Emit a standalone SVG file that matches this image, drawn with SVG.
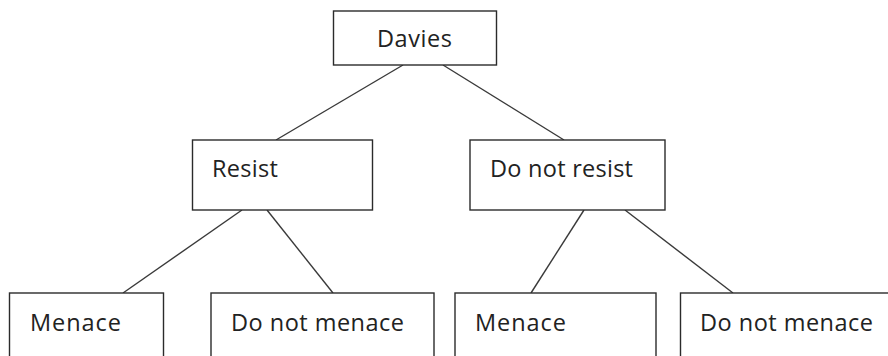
<svg xmlns="http://www.w3.org/2000/svg" width="888" height="356" viewBox="0 0 888 356">
<style>
.box{fill:#fff;stroke:#2b2b2b;stroke-width:1.4}
.lbl{font-family:"Open Sans","Noto Sans",sans-serif;font-size:23.5px;fill:#222}
.edge{stroke:#3a3a3a;stroke-width:1.4;fill:none}
</style>
<rect width="888" height="356" fill="#fff"/>
<g id="connectors">
<line class="edge" x1="403" y1="65" x2="276" y2="140"/>
<line class="edge" x1="443" y1="65" x2="564" y2="140"/>
<line class="edge" x1="242" y1="210" x2="123" y2="293"/>
<line class="edge" x1="267" y1="210" x2="333" y2="293"/>
<line class="edge" x1="584" y1="210" x2="531" y2="293"/>
<line class="edge" x1="625" y1="210" x2="733" y2="293"/>
</g>
<g id="davies"><rect class="box" x="333.5" y="11" width="163" height="54"/><text class="lbl" x="377" y="47" textLength="75">Davies</text></g>
<g id="resist"><rect class="box" x="192.5" y="140" width="180" height="70"/><text class="lbl" x="212" y="177" textLength="66">Resist</text></g>
<g id="do-not-resist"><rect class="box" x="470" y="140" width="195" height="70"/><text class="lbl" x="490" y="177" textLength="143">Do not resist</text></g>
<g id="menace-1"><rect class="box" x="9.5" y="293" width="154" height="70"/><text class="lbl" x="30" y="331" textLength="91">Menace</text></g>
<g id="do-not-menace-1"><rect class="box" x="211" y="293" width="223" height="70"/><text class="lbl" x="231" y="331" textLength="173">Do not menace</text></g>
<g id="menace-2"><rect class="box" x="455" y="293" width="201" height="70"/><text class="lbl" x="475" y="331" textLength="91">Menace</text></g>
<g id="do-not-menace-2"><rect class="box" x="680.5" y="293" width="220" height="70"/><text class="lbl" x="700" y="331" textLength="173">Do not menace</text></g>
</svg>
